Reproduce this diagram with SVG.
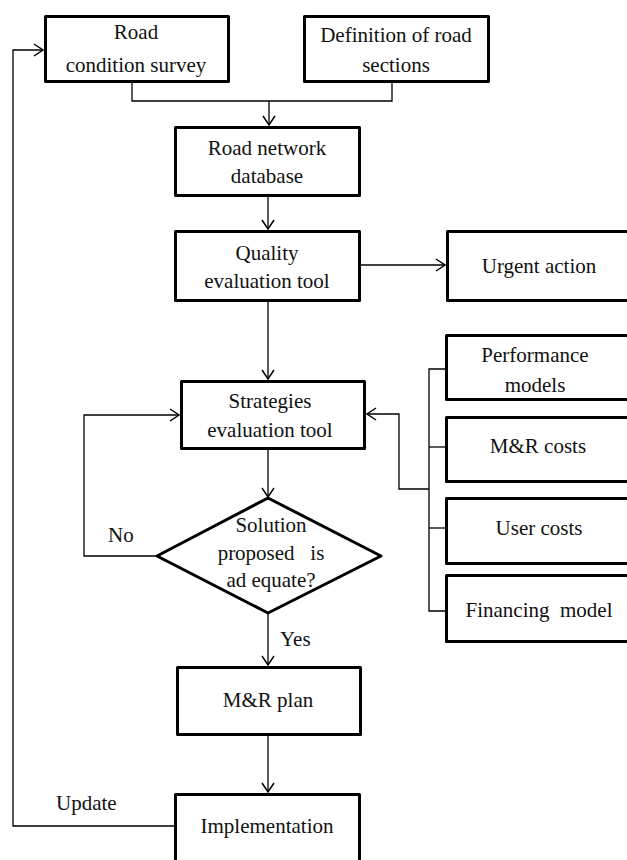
<svg xmlns="http://www.w3.org/2000/svg" width="627" height="860" viewBox="0 0 627 860" font-family="'Liberation Serif', 'DejaVu Serif', serif">
<style>
.box{fill:#fff;stroke:#000;stroke-width:3;stroke-linejoin:round}
.c{fill:none;stroke:#000;stroke-width:1.3}
.a{marker-end:url(#arr)}
.t{font-family:'Liberation Serif','DejaVu Serif',serif;font-size:21px;fill:#111;text-anchor:middle}
.l{text-anchor:start}
</style>
<defs>
<marker id="arr" markerUnits="userSpaceOnUse" viewBox="-10 -7 12 14" refX="0" refY="0" markerWidth="12" markerHeight="14" orient="auto">
<polyline points="-9,-6 0,0 -9,6" fill="none" stroke="#000" stroke-width="1.5"/>
</marker>
</defs>
<rect width="627" height="860" fill="#fff"/>
<g id="connectors">
<polyline class="c" points="132,83 132,101 392,101 392,83"/>
<line class="c a" x1="269" y1="101" x2="269" y2="125"/>
<line class="c a" x1="268" y1="197" x2="268" y2="229"/>
<line class="c a" x1="361" y1="265" x2="445" y2="265"/>
<line class="c a" x1="268" y1="302" x2="268" y2="379"/>
<line class="c a" x1="268" y1="450" x2="268" y2="497"/>
<polyline class="c a" points="157,556 84,556 84,415 179,415"/>
<polyline class="c" points="446,369 429,369 429,611 446,611"/>
<line class="c" x1="429" y1="447" x2="446" y2="447"/>
<line class="c" x1="429" y1="528" x2="446" y2="528"/>
<polyline class="c a" points="429,489 399,489 399,414 367,414"/>
<line class="c a" x1="268" y1="613" x2="268" y2="665"/>
<line class="c a" x1="268" y1="736" x2="268" y2="792"/>
<polyline class="c a" points="174,826 13,826 13,50 43,50"/>
</g>
<g id="road-condition-survey">
<rect class="box" x="45.5" y="16.5" width="183" height="65"/>
<text class="t" x="136" y="39">Road</text>
<text class="t" x="136" y="72">condition survey</text>
</g>
<g id="definition-road-sections">
<rect class="box" x="304.5" y="16.5" width="184" height="65"/>
<text class="t" x="396" y="42">Definition of road</text>
<text class="t" x="396" y="72">sections</text>
</g>
<g id="road-network-database">
<rect class="box" x="175.5" y="127.5" width="184" height="68"/>
<text class="t" x="267" y="155">Road network</text>
<text class="t" x="267" y="183">database</text>
</g>
<g id="quality-evaluation-tool">
<rect class="box" x="175.5" y="231.5" width="184" height="69"/>
<text class="t" x="267" y="260">Quality</text>
<text class="t" x="267" y="288">evaluation tool</text>
</g>
<g id="urgent-action">
<rect class="box" x="447.5" y="231.5" width="190" height="69"/>
<text class="t" x="539" y="273">Urgent action</text>
</g>
<g id="strategies-evaluation-tool">
<rect class="box" x="181.5" y="381.5" width="183" height="67"/>
<text class="t" x="270" y="408">Strategies</text>
<text class="t" x="270" y="437">evaluation tool</text>
</g>
<g id="performance-models">
<rect class="box" x="446.5" y="335.5" width="190" height="64"/>
<text class="t" x="535" y="362">Performance</text>
<text class="t" x="535" y="392">models</text>
</g>
<g id="mr-costs">
<rect class="box" x="446.5" y="417.5" width="190" height="64"/>
<text class="t" x="538" y="453">M&amp;R costs</text>
</g>
<g id="user-costs">
<rect class="box" x="446.5" y="498.5" width="190" height="65"/>
<text class="t" x="539" y="535">User costs</text>
</g>
<g id="financing-model">
<rect class="box" x="446.5" y="575.5" width="190" height="66"/>
<text class="t" x="539" y="617" xml:space="preserve">Financing  model</text>
</g>
<g id="decision">
<polygon class="box" points="268,498 381,556 268,613 157,556"/>
<text class="t" x="271" y="532">Solution</text>
<text class="t" x="271" y="560" xml:space="preserve">proposed   is</text>
<text class="t" x="271" y="587">ad equate?</text>
<text class="t l" x="108" y="542">No</text>
<text class="t l" x="280" y="646">Yes</text>
</g>
<g id="mr-plan">
<rect class="box" x="177.5" y="667.5" width="183" height="67"/>
<text class="t" x="268" y="707">M&amp;R plan</text>
</g>
<g id="implementation">
<rect class="box" x="175.5" y="794.5" width="184" height="80"/>
<text class="t" x="267" y="833">Implementation</text>
<text class="t l" x="56" y="810">Update</text>
</g>
</svg>
